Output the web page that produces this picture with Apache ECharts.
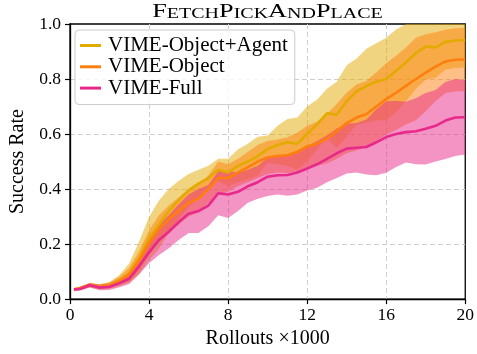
<!DOCTYPE html>
<html>
<head>
<meta charset="utf-8">
<script src="https://cdn.jsdelivr.net/npm/echarts@6/dist/echarts.min.js"></script>
<style>html,body{margin:0;padding:0;background:#fff}#c{width:477px;height:354px}</style>
</head>
<body>
<div id="c"></div>
<script>
const titleText = 'FetchPickAndPlace';
const xLabel = 'Rollouts ×1000';
const yLabel = 'Success Rate';
const seriesNames = ['VIME-Object+Agent', 'VIME-Object', 'VIME-Full'];
const xTicks = [0, 4, 8, 12, 16, 20];
const yTicks = [0.0, 0.2, 0.4, 0.6, 0.8, 1.0];

const rollouts = [0.2, 0.5, 1, 1.5, 2, 2.5, 3, 3.5, 4, 4.5, 5, 5.5, 6, 6.5, 7, 7.5, 8, 8.5, 9, 9.5, 10,
  10.5, 11, 11.5, 12, 12.5, 13, 13.5, 14, 14.5, 15, 15.5, 16, 16.5, 17, 17.5, 18, 18.5, 19, 19.5, 20];

const agentMean = [0.035, 0.038, 0.05, 0.045, 0.05, 0.068, 0.095, 0.15, 0.22, 0.27, 0.32, 0.36, 0.395, 0.42, 0.44, 0.47, 0.46, 0.485, 0.50, 0.52, 0.545,
  0.56, 0.57, 0.565, 0.60, 0.635, 0.675, 0.67, 0.72, 0.755, 0.775, 0.79, 0.80, 0.83, 0.86, 0.895, 0.918, 0.915, 0.935, 0.94, 0.942];
const agentStd = [0.005, 0.006, 0.008, 0.01, 0.012, 0.02, 0.035, 0.06, 0.078, 0.088, 0.08, 0.07, 0.06, 0.05, 0.045, 0.04, 0.05, 0.06, 0.065, 0.07, 0.05,
  0.07, 0.085, 0.095, 0.1, 0.09, 0.09, 0.12, 0.13, 0.12, 0.135, 0.14, 0.15, 0.15, 0.14, 0.13, 0.12, 0.11, 0.1, 0.1, 0.1];

const objectMean = [0.035, 0.04, 0.052, 0.045, 0.05, 0.066, 0.09, 0.14, 0.205, 0.255, 0.29, 0.32, 0.35, 0.365, 0.40, 0.44, 0.44, 0.46, 0.48, 0.50, 0.515,
  0.52, 0.523, 0.535, 0.555, 0.565, 0.583, 0.61, 0.64, 0.66, 0.673, 0.70, 0.727, 0.75, 0.775, 0.80, 0.823, 0.845, 0.864, 0.87, 0.871];
const objectStd = [0.004, 0.005, 0.007, 0.008, 0.01, 0.015, 0.025, 0.035, 0.045, 0.05, 0.05, 0.05, 0.05, 0.05, 0.05, 0.06, 0.05, 0.05, 0.055, 0.06, 0.06,
  0.06, 0.065, 0.07, 0.075, 0.08, 0.09, 0.1, 0.11, 0.12, 0.12, 0.125, 0.13, 0.135, 0.14, 0.15, 0.14, 0.125, 0.115, 0.115, 0.115];

const fullMean = [0.035, 0.037, 0.05, 0.042, 0.045, 0.058, 0.075, 0.12, 0.17, 0.215, 0.245, 0.28, 0.31, 0.32, 0.34, 0.385, 0.38, 0.39, 0.41, 0.425, 0.445,
  0.45, 0.451, 0.46, 0.475, 0.49, 0.51, 0.53, 0.547, 0.55, 0.553, 0.57, 0.589, 0.60, 0.607, 0.61, 0.619, 0.63, 0.649, 0.66, 0.661];
const fullStd = [0.005, 0.006, 0.008, 0.01, 0.012, 0.015, 0.02, 0.03, 0.04, 0.055, 0.06, 0.065, 0.07, 0.08, 0.075, 0.08, 0.085, 0.07, 0.06, 0.06, 0.07,
  0.07, 0.075, 0.08, 0.08, 0.085, 0.085, 0.09, 0.09, 0.09, 0.1, 0.12, 0.13, 0.12, 0.11, 0.12, 0.13, 0.13, 0.14, 0.14, 0.135];

const lineColors = ['#e3aa00', '#ff7f0e', '#e7298a'];
const bandColors = ['rgba(227,170,0,0.5)', 'rgba(255,127,14,0.5)', 'rgba(231,41,138,0.5)'];
const means = [agentMean, objectMean, fullMean];
const stds = [agentStd, objectStd, fullStd];

const SERIF = '"Liberation Serif", "Times New Roman", serif';

const series = [];
means.forEach((m, k) => {
  const s = stds[k];
  const upper = rollouts.map((x, i) => [x, m[i] + s[i]]);
  const lower = rollouts.map((x, i) => [x, m[i] - s[i]]);
  series.push({
    name: 'band-' + k, type: 'custom', silent: true, clip: true, z: 1,
    data: [0],
    renderItem: (params, api) => {
      const pts = upper.map(p => api.coord(p)).concat(lower.slice().reverse().map(p => api.coord(p)));
      return { type: 'polygon', shape: { points: pts }, style: { fill: bandColors[k], stroke: null } };
    }
  });
});
means.forEach((m, k) => {
  series.push({
    name: seriesNames[k], type: 'line', symbol: 'none', z: 3,
    color: lineColors[k],
    lineStyle: { color: lineColors[k], width: 2.6 },
    data: rollouts.map((x, i) => [x, m[i]])
  });
});

// title in small caps (capitals big, others small)
const richParts = [];
for (const ch of titleText) {
  if (ch === ch.toUpperCase()) richParts.push('{b|' + ch + '}');
  else richParts.push('{s|' + ch.toUpperCase() + '}');
}

const chart = echarts.init(document.getElementById('c'), null, { renderer: 'canvas' });
chart.setOption({
  animation: false,
  backgroundColor: '#fff',
  grid: { left: 68, right: 10, top: 24, bottom: 52, show: true, borderColor: '#000', borderWidth: 1.3, containLabel: false },
  graphic: [{
    type: 'text', x: 267.5, y: 12, scaleX: 1.38, z: 10,
    style: {
      text: richParts.join(''), align: 'center', verticalAlign: 'middle', fill: '#000',
      rich: {
        b: { fontSize: 19, fontFamily: SERIF, lineHeight: 20, verticalAlign: 'bottom', fill: '#000' },
        s: { fontSize: 14.5, fontFamily: SERIF, lineHeight: 20, verticalAlign: 'bottom', fill: '#000' }
      }
    }
  }],
  legend: {
    data: seriesNames, orient: 'vertical', left: 75, top: 30, z: 20,
    icon: 'rect', itemWidth: 21, itemHeight: 3, itemGap: 0.3,
    padding: [5, 7, 6, 5],
    backgroundColor: 'rgba(255,255,255,0.8)', borderColor: '#cccccc', borderWidth: 1, borderRadius: 4,
    textStyle: { fontFamily: SERIF, fontSize: 21, color: '#000', lineHeight: 20.8, padding: [0, 0, 0, 2] }
  },
  xAxis: {
    type: 'value', min: 0, max: 20, interval: 4,
    name: xLabel, nameLocation: 'middle', nameGap: 27,
    nameTextStyle: { fontFamily: SERIF, fontSize: 20, color: '#000' },
    axisLine: { show: true, onZero: false, lineStyle: { color: '#000', width: 1.3 } },
    axisTick: { show: true, length: 5, lineStyle: { color: '#000', width: 1.2 } },
    axisLabel: { fontFamily: SERIF, fontSize: 17.5, color: '#000', margin: 7,
      customValues: xTicks, formatter: v => String(v) },
    splitLine: { show: true, showMinLine: false, showMaxLine: false,
      lineStyle: { color: '#cfcfcf', width: 1, type: [5, 3] } }
  },
  yAxis: {
    type: 'value', min: 0, max: 1, interval: 0.2,
    name: yLabel, nameLocation: 'middle', nameGap: 42, nameRotate: 90,
    nameTextStyle: { fontFamily: SERIF, fontSize: 20, color: '#000' },
    axisLine: { show: true, onZero: false, lineStyle: { color: '#000', width: 1.3 } },
    axisTick: { show: true, length: 5, lineStyle: { color: '#000', width: 1.2 } },
    axisLabel: { fontFamily: SERIF, fontSize: 17.5, color: '#000', margin: 9,
      formatter: v => (yTicks.some(t => Math.abs(t - v) < 1e-9) ? v.toFixed(1) : '') },
    splitLine: { show: true, showMinLine: false, showMaxLine: false,
      lineStyle: { color: '#cfcfcf', width: 1, type: [5, 3] } }
  },
  series: series
});
</script>
</body>
</html>
